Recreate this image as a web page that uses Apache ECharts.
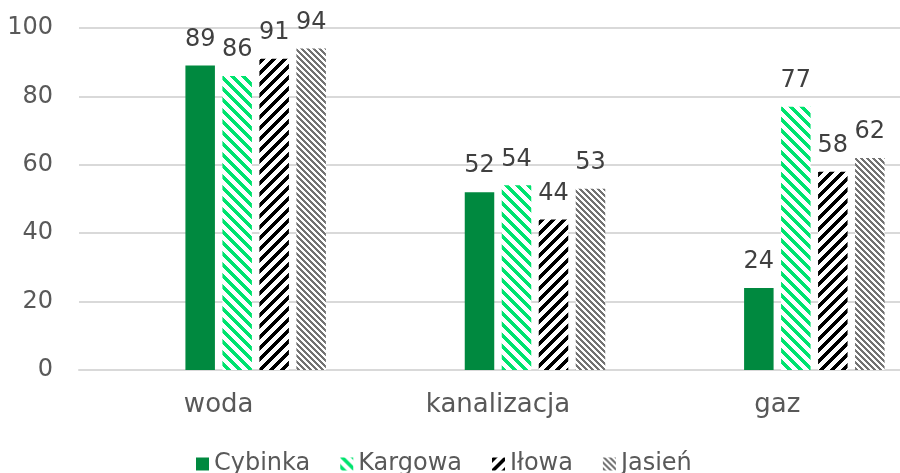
<!DOCTYPE html>
<html>
<head>
<meta charset="utf-8">
<script src="https://cdn.jsdelivr.net/npm/echarts@6/dist/echarts.min.js"></script>
<style>
html,body{margin:0;padding:0;background:#fff;overflow:hidden;width:900px;height:473px;}
#chart{width:918px;height:473px;}
</style>
</head>
<body>
<div id="chart"></div>
<script>
var categories = ['woda', 'kanalizacja', 'gaz'];
var seriesNames = ['Cybinka', 'Kargowa', 'Iłowa', 'Jasień'];
var cybinka = [89, 52, 24];
var kargowa = [86, 54, 77];
var ilowa = [91, 44, 58];
var jasien = [94, 53, 62];
var yTicks = [0, 20, 40, 60, 80, 100];

function stripe(fg, size, w, dir) {
  var c = document.createElement('canvas');
  c.width = size; c.height = size;
  var ctx = c.getContext('2d');
  ctx.fillStyle = '#ffffff';
  ctx.fillRect(0, 0, size, size);
  ctx.fillStyle = fg;
  for (var y = 0; y < size; y++) {
    for (var x = 0; x < size; x++) {
      var v = dir === 'down' ? (x - y) : (x + y);
      v = ((v % size) + size) % size;
      if (v < w) ctx.fillRect(x, y, 1, 1);
    }
  }
  return { image: c, repeat: 'repeat' };
}

var fills = [
  '#00893F',
  stripe('#00E36E', 11, 5, 'down'),
  stripe('#000000', 11, 5, 'up'),
  stripe('#737373', 6, 3, 'down')
];
var values = [cybinka, kargowa, ilowa, jasien];

var chart = echarts.init(document.getElementById('chart'), null, { renderer: 'canvas' });
var barW = 29.5;
var series = [];
// two empty placeholder slots (as in the original chart layout)
for (var p = 0; p < 2; p++) {
  series.push({ type: 'bar', name: '_' + p, data: [null, null, null], barWidth: barW, barGap: '25.4%', silent: true });
}
for (var i = 0; i < 4; i++) {
  series.push({
    type: 'bar',
    name: seriesNames[i],
    data: values[i],
    barWidth: barW,
    barGap: '25.4%',
    itemStyle: { color: fills[i] },
    label: {
      show: true,
      position: 'top',
      distance: 14,
      fontFamily: 'DejaVu Sans',
      fontSize: 24,
      color: '#404040'
    }
  });
}

chart.setOption({
  animation: false,
  backgroundColor: '#ffffff',
  grid: { left: 79, top: 28, right: 1, height: 342, containLabel: false },
  legend: {
    data: seriesNames,
    left: 191,
    top: 447,
    itemWidth: 13,
    itemHeight: 13,
    itemGap: 30,
    icon: 'rect',
    textStyle: { fontFamily: 'DejaVu Sans', fontSize: 24, color: '#595959' }
  },
  xAxis: {
    type: 'category',
    data: categories,
    axisLine: { show: true, lineStyle: { color: '#d9d9d9', width: 2 } },
    axisTick: { show: false },
    axisLabel: { fontFamily: 'DejaVu Sans', fontSize: 26, color: '#595959', margin: 22 }
  },
  yAxis: {
    type: 'value',
    min: yTicks[0],
    max: yTicks[yTicks.length - 1],
    interval: yTicks[1] - yTicks[0],
    axisLine: { show: false },
    axisTick: { show: false },
    splitLine: { lineStyle: { color: '#d9d9d9', width: 2 } },
    axisLabel: { fontFamily: 'DejaVu Sans', fontSize: 24, color: '#595959', margin: 26 }
  },
  series: series
});
</script>
</body>
</html>
